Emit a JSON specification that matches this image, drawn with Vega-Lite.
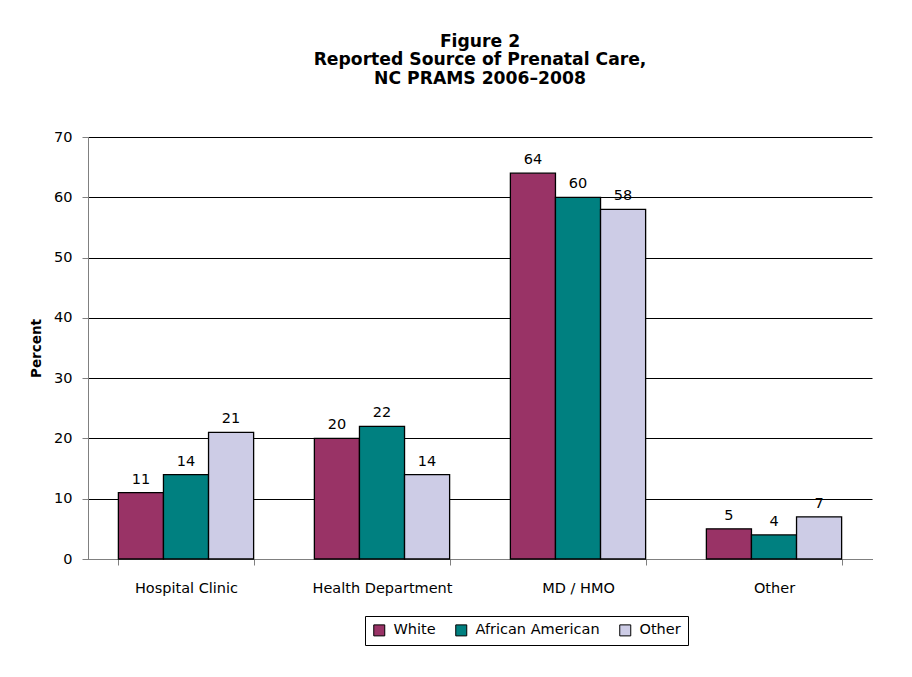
{
  "$schema": "https://vega.github.io/schema/vega-lite/v6.json",
  "width": 784,
  "height": 422,
  "autosize": "none",
  "padding": {"left": 88, "top": 137, "right": 40, "bottom": 118},
  "background": "white",
  "title": {
    "text": ["Figure 2", "Reported Source of Prenatal Care,", "NC PRAMS 2006–2008"],
    "font": "DejaVu Sans",
    "fontSize": 17.2,
    "fontWeight": "bold",
    "color": "black",
    "anchor": "middle",
    "offset": 42,
    "lineHeight": 18.5
  },
  "data": {
    "values": [
      {"source": "Hospital Clinic", "race": "White", "value": 11},
      {"source": "Hospital Clinic", "race": "African American", "value": 14},
      {"source": "Hospital Clinic", "race": "Other", "value": 21},
      {"source": "Health Department", "race": "White", "value": 20},
      {"source": "Health Department", "race": "African American", "value": 22},
      {"source": "Health Department", "race": "Other", "value": 14},
      {"source": "MD / HMO", "race": "White", "value": 64},
      {"source": "MD / HMO", "race": "African American", "value": 60},
      {"source": "MD / HMO", "race": "Other", "value": 58},
      {"source": "Other", "race": "White", "value": 5},
      {"source": "Other", "race": "African American", "value": 4},
      {"source": "Other", "race": "Other", "value": 7}
    ]
  },
  "encoding": {
    "x": {
      "field": "source",
      "type": "nominal",
      "sort": ["Hospital Clinic", "Health Department", "MD / HMO", "Other"],
      "scale": {"paddingInner": 0.31, "paddingOuter": 0.155},
      "axis": {
        "title": null,
        "labelAngle": 0,
        "labelFont": "DejaVu Sans",
        "labelFontSize": 14.5,
        "labelColor": "black",
        "labelPadding": 16,
        "tickBand": "extent",
        "tickSize": 6,
        "tickColor": "#808080",
        "domainColor": "#808080",
        "grid": false
      }
    },
    "xOffset": {"field": "race", "sort": ["White", "African American", "Other"]},
    "y": {
      "field": "value",
      "type": "quantitative",
      "scale": {"domain": [0, 70], "nice": false},
      "axis": {
        "title": "Percent",
        "titleFont": "DejaVu Sans",
        "titleFontSize": 13.5,
        "titleFontWeight": "bold",
        "titleColor": "black",
        "titlePadding": 10,
        "values": [0, 10, 20, 30, 40, 50, 60, 70],
        "labelFont": "DejaVu Sans",
        "labelFontSize": 14.5,
        "labelColor": "black",
        "labelPadding": 10,
        "tickSize": 6,
        "tickColor": "#808080",
        "domainColor": "#808080",
        "grid": true,
        "gridColor": "black",
        "gridOpacity": 1,
        "gridWidth": 1
      }
    }
  },
  "layer": [
    {
      "mark": {"type": "bar", "stroke": "black", "strokeWidth": 1.3},
      "encoding": {
        "color": {
          "field": "race",
          "type": "nominal",
          "sort": ["White", "African American", "Other"],
          "scale": {
            "domain": ["White", "African American", "Other"],
            "range": ["#993366", "#008080", "#CDCCE6"]
          },
          "legend": {
            "title": null,
            "orient": "none",
            "direction": "horizontal",
            "legendX": 277,
            "legendY": 479,
            "strokeColor": "black",
            "padding": 7,
            "symbolType": "square",
            "symbolSize": 121,
            "symbolStrokeColor": "black",
            "symbolStrokeWidth": 1,
            "symbolOpacity": 1,
            "labelFont": "DejaVu Sans",
            "labelFontSize": 14.5,
            "labelColor": "black",
            "labelOffset": 7,
            "columnPadding": 17
          }
        }
      }
    },
    {
      "mark": {"type": "text", "baseline": "alphabetic", "dy": -9, "font": "DejaVu Sans", "fontSize": 14.5, "color": "black"},
      "encoding": {"text": {"field": "value", "type": "quantitative"}}
    }
  ],
  "config": {"view": {"stroke": null}}
}
